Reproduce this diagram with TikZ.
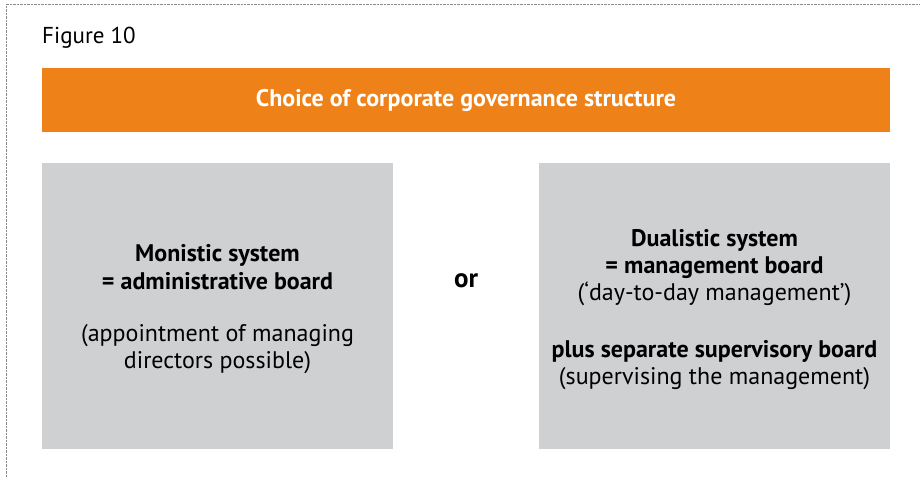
\documentclass[tikz,border=0pt]{standalone}
\usepackage{fontspec}
\setmainfont{PT Sans}
\definecolor{barorange}{HTML}{EE8219}
\definecolor{panelgray}{HTML}{CFD0D2}
\definecolor{framegray}{HTML}{8A8A8A}
\begin{document}
\begin{tikzpicture}[x=1pt,y=-1pt,
  panel/.style={fill=panelgray,draw=none,minimum width=351pt,minimum height=286pt,inner sep=0pt},
  paneltext/.style={inner sep=0pt,align=center,font=\fontsize{24}{27}\selectfont},
  bar/.style={fill=barorange,draw=none,minimum width=848pt,minimum height=64pt,
    inner sep=0pt,text=white,font=\fontsize{24}{27}\selectfont\bfseries}]
\useasboundingbox (0,0) rectangle (920,478);
\draw[framegray,densely dotted] (6,478) -- (6,4.5) -- (920,4.5);

\node[anchor=west,inner sep=0pt,font=\fontsize{23}{27}\selectfont] (fig) at (42,38) {Figure 10};
\node[bar] (title) at (466,100) {Choice of corporate governance structure};

\node[panel] (mono) at (217.5,306) {};
\node[paneltext] (monotext) at ([yshift=-3pt]mono.center) {\textbf{Monistic system}\\[1pt]
  \textbf{= administrative board}\\[25pt]
  (appointment of managing\\directors possible)};
\node[font=\fontsize{27}{30}\selectfont\bfseries] (or) at (466,281) {or};
\node[panel] (dual) at (714.5,306) {};
\node[paneltext] (dualtext) at ([yshift=-4pt]dual.center) {\textbf{Dualistic system}\\
  \textbf{= management board}\\
  (`day-to-day management')\\[30pt]
  \textbf{plus separate supervisory board}\\
  (supervising the management)};
\end{tikzpicture}
\end{document}
